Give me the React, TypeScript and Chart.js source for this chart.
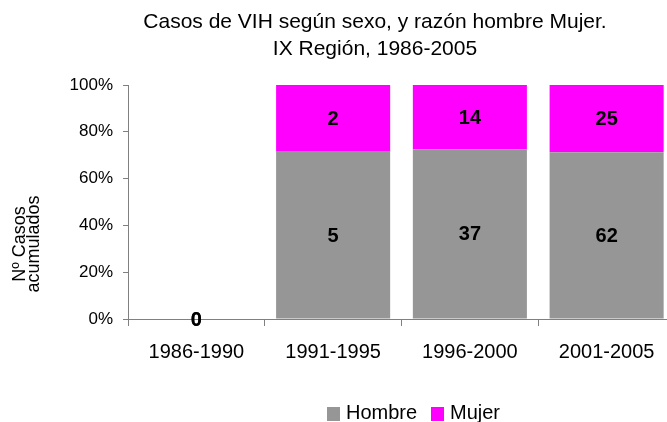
import React, { useEffect, useRef } from "react";
import { Chart, registerables } from "chart.js";

Chart.register(...registerables);

const categories = ["1986-1990", "1991-1995", "1996-2000", "2001-2005"];
const hombre = [0, 5, 37, 62];
const mujer = [0, 2, 14, 25];
const yTicks = [0, 20, 40, 60, 80, 100];
const titleLines = ["Casos de VIH según sexo, y razón hombre Mujer.", "IX Región, 1986-2005"];
const yTitleLines = ["Nº Casos", "acumulados"];
const seriesNames = ["Hombre", "Mujer"];
const seriesColors = ["#969696", "#FF00FF"];

const FONT = "'Liberation Sans', Arial, sans-serif";

function pct(a: number[], b: number[], which: number[]) {
  return which.map((v, i) => {
    const t = a[i] + b[i];
    return t === 0 ? 0 : (v / t) * 100;
  });
}

const counts = [hombre, mujer];

const textPlugin = {
  id: "textPlugin",
  afterDraw(chart: any) {
    const ctx = chart.ctx;
    ctx.save();
    ctx.fillStyle = "#000";
    ctx.textAlign = "center";
    ctx.textBaseline = "middle";
    ctx.font = `21px ${FONT}`;
    ctx.fillText(titleLines[0], 375, 22);
    ctx.fillText(titleLines[1], 375, 49);

    // y axis title
    ctx.save();
    ctx.translate(27, 244);
    ctx.rotate(-Math.PI / 2);
    ctx.font = `18px ${FONT}`;
    ctx.fillText(yTitleLines[0], 0, -7);
    ctx.fillText(yTitleLines[1], 0, 7);
    ctx.restore();

    // legend
    ctx.font = `20px ${FONT}`;
    ctx.textAlign = "left";
    const boxes = [327, 431];
    seriesNames.forEach((n, i) => {
      ctx.fillStyle = seriesColors[i];
      ctx.fillRect(boxes[i], 407, 13, 14);
      ctx.fillStyle = "#000";
      ctx.fillText(n, boxes[i] + 19, 413);
    });
    ctx.restore();
  },
  afterDatasetsDraw(chart: any) {
    const ctx = chart.ctx;
    ctx.save();
    ctx.fillStyle = "#000";
    ctx.textAlign = "center";
    ctx.textBaseline = "middle";
    ctx.font = `bold 20px ${FONT}`;
    chart.data.datasets.forEach((ds: any, di: number) => {
      const meta = chart.getDatasetMeta(di);
      meta.data.forEach((el: any, i: number) => {
        const y = (el.y + el.base) / 2;
        ctx.fillText(String(counts[di][i]), el.x, y + 1);
      });
    });
    ctx.restore();
  },
};

export default function App() {
  const ref = useRef<HTMLCanvasElement>(null);
  useEffect(() => {
    if (!ref.current) return;
    const chart = new Chart(ref.current, {
      type: "bar",
      data: {
        labels: categories,
        datasets: [
          {
            label: seriesNames[0],
            data: pct(hombre, mujer, hombre),
            backgroundColor: seriesColors[0],
            categoryPercentage: 1,
            barPercentage: 0.834,
          },
          {
            label: seriesNames[1],
            data: pct(hombre, mujer, mujer),
            backgroundColor: seriesColors[1],
            categoryPercentage: 1,
            barPercentage: 0.834,
          },
        ],
      },
      options: {
        responsive: false,
        animation: false,
        devicePixelRatio: 1,
        layout: { padding: { top: 85, left: 0, right: 5, bottom: 0 } },
        plugins: { legend: { display: false }, title: { display: false }, tooltip: { enabled: false } },
        scales: {
          x: {
            stacked: true,
            grid: { display: true, drawOnChartArea: false, drawTicks: true, tickLength: 7, color: "#808080", offset: true },
            border: { display: true, color: "#808080", width: 1 },
            ticks: { color: "#000", font: { family: FONT, size: 20 }, padding: 14, maxRotation: 0 },
            afterFit: (s: any) => { s.height = 103; },
          },
          y: {
            stacked: true,
            min: 0,
            max: 100,
            afterBuildTicks: (s: any) => { s.ticks = yTicks.map((v) => ({ value: v })); },
            grid: { display: true, drawOnChartArea: false, drawTicks: true, tickLength: 5, color: "#808080" },
            border: { display: true, color: "#808080", width: 1 },
            ticks: { color: "#000", font: { family: FONT, size: 17 }, padding: 10, callback: (v: any) => v + "%" },
            afterFit: (s: any) => { s.width = 128; },
          },
        },
      },
      plugins: [textPlugin],
    });
    return () => chart.destroy();
  }, []);
  return (
    <div style={{ position: "fixed", left: 0, top: 0, width: 667, height: 422, overflow: "hidden", background: "#fff" }}>
      <canvas ref={ref} width={680} height={422} style={{ display: "block", width: 680, height: 422 }} />
    </div>
  );
}
